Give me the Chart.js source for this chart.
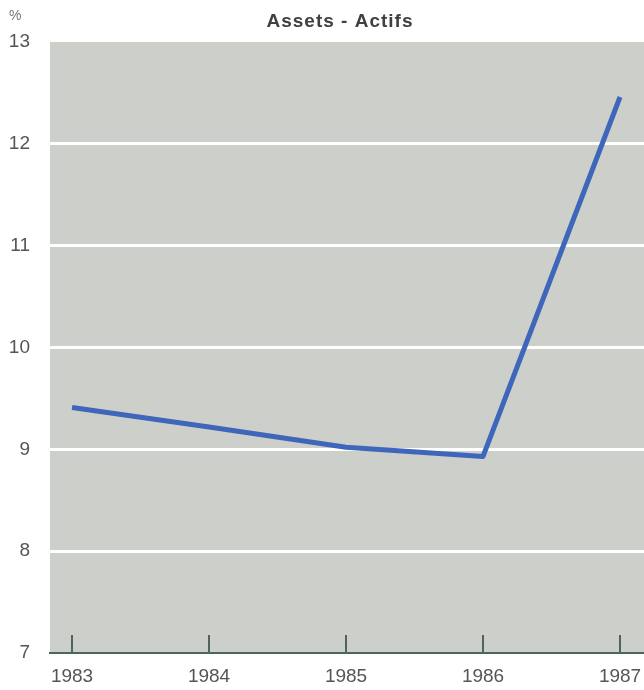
<!DOCTYPE html>
<html><head><meta charset="utf-8">
<script src="https://cdn.jsdelivr.net/npm/chart.js@4"></script>
<style>html,body{margin:0;padding:0;background:#fff}#wrap{width:644px;height:690px;position:relative}</style>
</head><body><div id="wrap"><canvas id="c"></canvas></div>
<script>
const years = [1983, 1984, 1985, 1986, 1987];
const assets = [9.41, 9.22, 9.02, 8.93, 12.46];
const yTicks = [7, 8, 9, 10, 11, 12, 13];
const chartTitle = 'Assets - Actifs';
const unitLabel = '%';

const FONT = '"Liberation Sans", Arial, sans-serif';

const bgPlugin = {
  id: 'bg',
  beforeDraw(chart) {
    const a = chart.chartArea, ctx = chart.ctx;
    ctx.save();
    ctx.fillStyle = '#cdcfcb';
    ctx.fillRect(a.left, a.top, a.right - a.left, a.bottom - a.top);
    ctx.restore();
  }
};
const tickPlugin = {
  id: 'inTicks',
  beforeDatasetsDraw(chart) {
    const x = chart.scales.x, a = chart.chartArea, ctx = chart.ctx;
    ctx.save();
    ctx.strokeStyle = '#4d665c';
    ctx.lineWidth = 2;
    years.forEach(v => {
      const px = Math.round(x.getPixelForValue(v));
      ctx.beginPath();
      ctx.moveTo(px, a.bottom);
      ctx.lineTo(px, a.bottom - 18);
      ctx.stroke();
    });
    ctx.restore();
  }
};
const textPlugin = {
  id: 'texts',
  afterDraw(chart) {
    const ctx = chart.ctx;
    ctx.save();
    ctx.fillStyle = '#404040';
    ctx.font = 'bold 19px ' + FONT;
    ctx.letterSpacing = '1px';
    ctx.textAlign = 'center';
    ctx.textBaseline = 'middle';
    ctx.fillText(chartTitle, 340, 22);
    ctx.letterSpacing = '0px';
    ctx.fillStyle = '#777';
    ctx.font = '14px ' + FONT;
    ctx.textAlign = 'left';
    ctx.fillText(unitLabel, 9, 16);
    ctx.restore();
  }
};

new Chart(document.getElementById('c'), {
  type: 'line',
  data: {
    datasets: [{
      data: years.map((y, i) => ({x: y, y: assets[i]})),
      borderColor: '#3e67bb',
      borderWidth: 5,
      pointRadius: 0,
      tension: 0,
      borderJoinStyle: 'round'
    }]
  },
  options: {
    responsive: true,
    maintainAspectRatio: false,
    animation: false,
    layout: {padding: {top: 42, left: 0, right: 0, bottom: 0}},
    plugins: {legend: {display: false}, tooltip: {enabled: false}, title: {display: false}},
    scales: {
      x: {
        type: 'linear',
        min: 1982.839,
        max: 1987.175,
        afterBuildTicks: s => { s.ticks = years.map(v => ({value: v})); },
        afterFit: s => { s.height = 37; s.paddingRight = 0; s.paddingLeft = 0; },
        grid: {display: false, drawTicks: false},
        border: {display: true, color: '#4d665c', width: 2},
        ticks: {
          autoSkip: false, maxRotation: 0, padding: 12,
          color: '#555', font: {family: FONT, size: 19},
          callback: v => String(v)
        }
      },
      y: {
        min: 7, max: 13,
        afterBuildTicks: s => { s.ticks = yTicks.map(v => ({value: v})); },
        afterFit: s => { s.width = 50; },
        grid: {
          drawTicks: false,
          lineWidth: 3,
          color: c => (c.tick && c.tick.value > 7 && c.tick.value < 13) ? '#ffffff' : 'rgba(0,0,0,0)'
        },
        border: {display: false},
        ticks: {padding: 20, color: '#555', font: {family: FONT, size: 19}, callback: v => String(v)}
      }
    }
  },
  plugins: [bgPlugin, tickPlugin, textPlugin]
});
</script>
</body></html>
